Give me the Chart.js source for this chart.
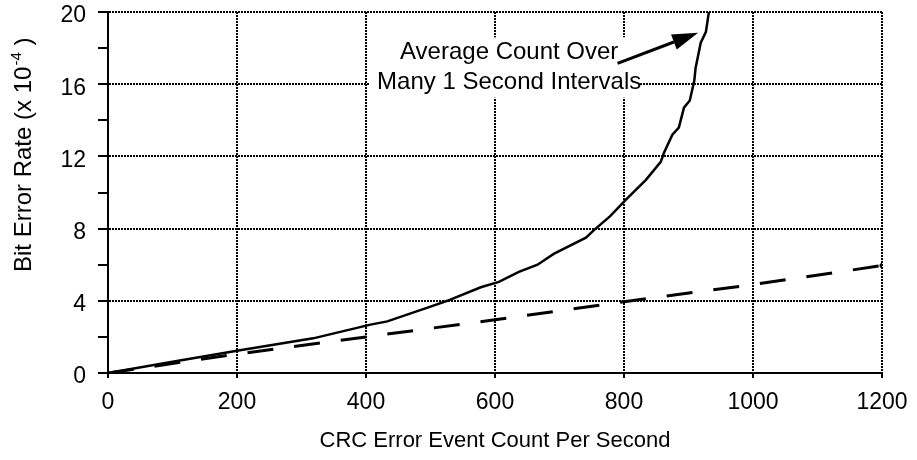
<!DOCTYPE html>
<html>
<head>
<meta charset="utf-8">
<script src="https://cdn.jsdelivr.net/npm/chart.js@4.4.1/dist/chart.umd.min.js"></script>
<style>
  html, body { margin: 0; padding: 0; background: #ffffff; }
  #wrap { width: 917px; height: 460px; }
</style>
</head>
<body>
<div id="wrap"><canvas id="grafico" width="917" height="460"></canvas></div>
<script>
// curva medida (media de muitos intervalos de 1 s)
const solidX = [0, 100, 200, 318, 407, 433, 500, 526, 578, 606, 637, 666, 691, 741, 753, 779, 803, 834, 857, 862, 875, 885, 893, 902, 909, 911, 919, 927, 932]
const solidY = [0, 0.62, 1.23, 1.92, 2.68, 2.86, 3.68, 4.0, 4.75, 5.05, 5.6, 6.0, 6.6, 7.5, 7.9, 8.7, 9.6, 10.7, 11.7, 12.2, 13.2, 13.6, 14.7, 15.1, 16.2, 16.9, 18.3, 18.9, 20.1]

// reta tracejada
const dashedX = [0, 200, 400, 600, 800, 1000, 1200]
const dashedY = [0, 1.05, 2.0, 2.95, 3.95, 4.9, 5.95]

const xTitle = 'CRC Error Event Count Per Second'
const yTitle = 'Bit Error Rate (x 10'
const yTitleSup = '-4'
const noteLines = ['Average Count Over', 'Many 1 Second Intervals']

const FONT = "'Liberation Sans', Arial, sans-serif"

Chart.defaults.color = '#000000'
Chart.defaults.font.family = FONT

// caixa branca, texto e seta da anotacao (em coordenadas do grafico)
const nota = {
    x: 622, y1: 17.75, y2: 16.1,
    box: { x1: 406, x2: 825, y1: 18.6, y2: 15.25 },
    seta: { x1: 790, y1: 17.15, x2: 915, y2: 18.85 }
}

const anotacao = {
    id: 'anotacao',
    beforeDatasetsDraw(chart) {
        const { ctx, scales: { x, y } } = chart
        ctx.save()
        ctx.fillStyle = '#ffffff'
        const bx = x.getPixelForValue(nota.box.x1)
        const by = y.getPixelForValue(nota.box.y1)
        ctx.fillRect(bx, by, x.getPixelForValue(nota.box.x2) - bx, y.getPixelForValue(nota.box.y2) - by)

        ctx.fillStyle = '#000000'
        ctx.font = '24px ' + FONT
        ctx.textAlign = 'center'
        ctx.textBaseline = 'middle'
        ctx.fillText(noteLines[0], x.getPixelForValue(nota.x), y.getPixelForValue(nota.y1))
        ctx.fillText(noteLines[1], x.getPixelForValue(nota.x), y.getPixelForValue(nota.y2))

        // seta
        const x1 = x.getPixelForValue(nota.seta.x1), y1 = y.getPixelForValue(nota.seta.y1)
        const x2 = x.getPixelForValue(nota.seta.x2), y2 = y.getPixelForValue(nota.seta.y2)
        const ang = Math.atan2(y2 - y1, x2 - x1)
        const len = 26, larg = 8
        const bx2 = x2 - len * Math.cos(ang), by2 = y2 - len * Math.sin(ang)
        ctx.strokeStyle = '#000000'
        ctx.lineWidth = 3
        ctx.beginPath()
        ctx.moveTo(x1, y1)
        ctx.lineTo(bx2, by2)
        ctx.stroke()
        ctx.beginPath()
        ctx.moveTo(x2, y2)
        ctx.lineTo(bx2 + larg * Math.sin(ang), by2 - larg * Math.cos(ang))
        ctx.lineTo(bx2 - larg * Math.sin(ang), by2 + larg * Math.cos(ang))
        ctx.closePath()
        ctx.fill()
        ctx.restore()
    },
    afterDraw(chart) {
        // titulo do eixo y com expoente
        const { ctx } = chart
        ctx.save()
        ctx.translate(31, 272)
        ctx.rotate(-Math.PI / 2)
        ctx.fillStyle = '#000000'
        ctx.textAlign = 'left'
        ctx.textBaseline = 'alphabetic'
        ctx.font = '24px ' + FONT
        ctx.fillText(yTitle, 0, 0)
        let w = ctx.measureText(yTitle).width + 1
        ctx.font = '15px ' + FONT
        ctx.fillText(yTitleSup, w, -10)
        w += ctx.measureText(yTitleSup).width
        ctx.font = '24px ' + FONT
        ctx.fillText(' )', w, 0)
        ctx.restore()
    }
}

const grafico = document.getElementById('grafico')

new Chart(grafico, {
    type: 'line',
    data: {
        datasets: [{
            data: solidX.map((v, i) => ({ x: v, y: solidY[i] })),
            borderColor: '#000000',
            borderWidth: 2.5,
            pointRadius: 0,
            tension: 0
        }, {
            data: dashedX.map((v, i) => ({ x: v, y: dashedY[i] })),
            borderColor: '#000000',
            backgroundColor: '#000000',
            borderWidth: 3,
            borderDash: [26, 21],
            pointRadius: ctx => ctx.dataIndex === dashedX.length - 1 ? 2.5 : 0,
            pointBorderWidth: 0,
            tension: 0
        }]
    },
    options: {
        responsive: false,
        animation: false,
        layout: { padding: { left: 0, right: 35, top: 12, bottom: 0 } },
        plugins: {
            legend: { display: false },
            tooltip: { enabled: false }
        },
        scales: {
            x: {
                type: 'linear',
                min: 0,
                max: 1200,
                afterFit: s => {
                    s.height = 87
                    s.paddingLeft = 0
                    s.paddingRight = 0
                },
                ticks: {
                    stepSize: 200,
                    padding: 13,
                    maxRotation: 0,
                    font: { size: 23, lineHeight: 1 },
                    color: '#000000',
                    callback: v => String(v)
                },
                grid: {
                    color: ctx => ctx.tick && ctx.tick.value === 0 ? 'rgba(0,0,0,0)' : '#000000',
                    lineWidth: 2,
                    tickLength: 5,
                    tickColor: '#000000',
                    tickWidth: 2
                },
                border: { display: true, color: '#000000', width: 2, dash: [2, 1] },
                title: {
                    display: true,
                    text: xTitle,
                    font: { size: 22, lineHeight: 1 },
                    color: '#000000',
                    padding: { top: 0, bottom: 8 }
                }
            },
            y: {
                min: 0,
                max: 20,
                afterFit: s => {
                    s.width = 108
                    s.paddingTop = 0
                    s.paddingBottom = 0
                },
                ticks: {
                    stepSize: 2,
                    padding: 12,
                    labelOffset: 4,
                    font: { size: 23, lineHeight: 1 },
                    color: '#000000',
                    callback: v => v % 4 === 0 ? String(v) : ''
                },
                grid: {
                    color: ctx => ctx.tick && ctx.tick.value % 4 === 0 && ctx.tick.value !== 0 ? '#000000' : 'rgba(0,0,0,0)',
                    lineWidth: 2,
                    tickLength: 10,
                    tickColor: '#000000',
                    tickWidth: 2
                },
                border: { display: true, color: '#000000', width: 2, dash: [2, 1] }
            }
        }
    },
    plugins: [anotacao]
})
</script>
</body>
</html>
